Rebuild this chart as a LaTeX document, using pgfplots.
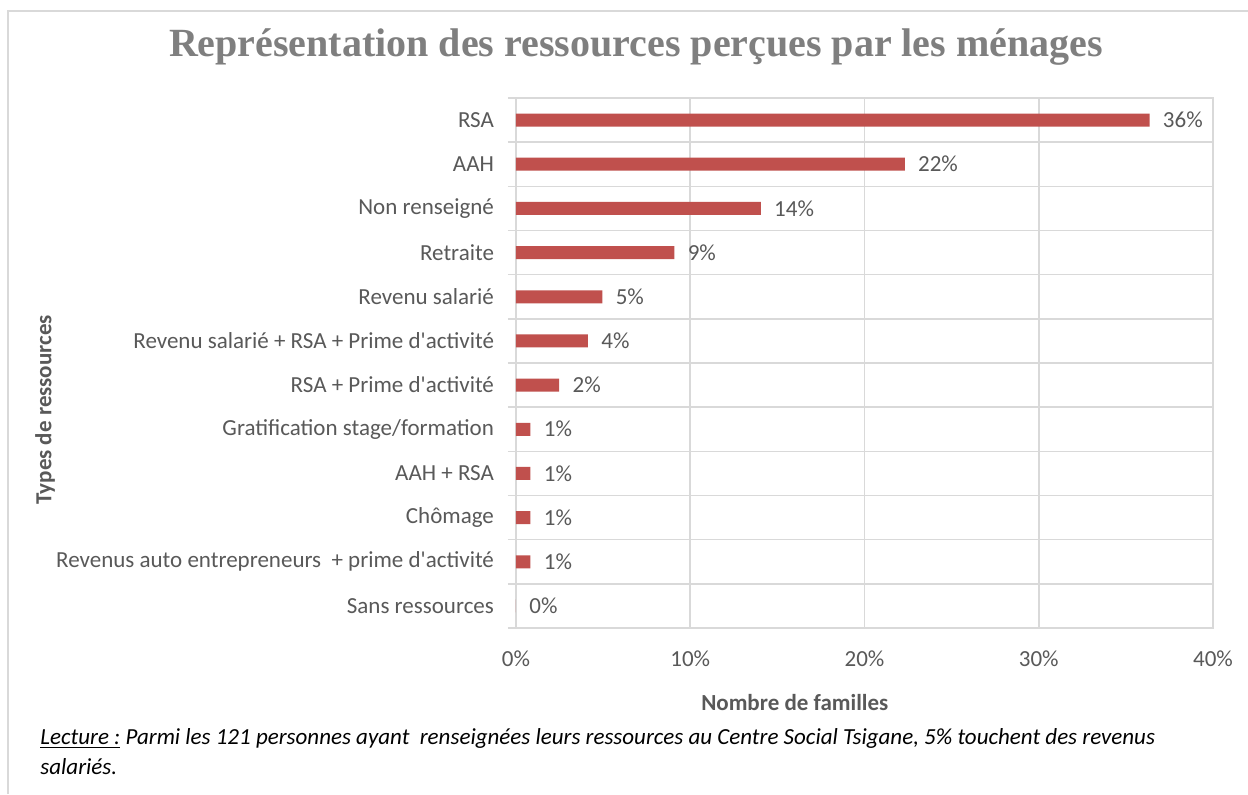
\documentclass[border=0pt]{standalone}
\usepackage{fontspec}
\setmainfont{Carlito}
\newfontfamily\titlefont{Liberation Serif}
\usepackage{pgfplots}
\pgfplotsset{compat=1.18}

\definecolor{barred}{HTML}{C0504D}
\definecolor{txt}{HTML}{595959}
\definecolor{ttl}{HTML}{7F7F7F}
\definecolor{gridc}{HTML}{D9D9D9}

% share of the 121 households, in %
\pgfplotstableread{
y   val
11  36.36
10  22.31
9   14.05
8   9.09
7   4.96
6   4.13
5   2.48
4   0.83
3   0.83
2   0.83
1   0.83
0   0
}\ressources

\newcommand{\q}{\textquotesingle}
\newcommand{\lbl}{\fontsize{11.5}{13}\selectfont}

\begin{document}
\begin{tikzpicture}
\useasboundingbox (0,0) rectangle (624pt,397pt);
\fill[white] (0,0) rectangle (624pt,397pt);
\draw[gridc, line width=0.8pt] (4pt,0) -- (4pt,391.5pt) -- (624pt,391.5pt);

\begin{axis}[
    at={(258pt,83pt)}, anchor=south west,
    scale only axis,
    width=348.5pt, height=265pt,
    xbar, bar width=6.5pt,
    xmin=0, xmax=40,
    ymin=-0.5, ymax=11.5,
    xtick={0,10,20,30,40},
    xticklabel={\pgfmathprintnumber{\tick}\%},
    ytick={0,...,11},
    yticklabels={Sans ressources,
      Revenus auto entrepreneurs\ \ + prime d\q activité,
      Chômage, AAH + RSA, Gratification stage/formation,
      RSA + Prime d\q activité,
      Revenu salarié + RSA + Prime d\q activité,
      Revenu salarié, Retraite, Non renseigné, AAH, RSA},
    minor ytick={-0.5,0.5,...,11.5},
    ytick pos=left,
    major tick length=0pt,
    minor tick length=4pt,
    tick align=outside,
    minor tick style={gridc, line width=0.8pt},
    xmajorgrids, yminorgrids,
    grid style={gridc, line width=0.8pt},
    axis line style={gridc, line width=0.8pt},
    tick label style={font=\lbl, text=txt},
    /pgf/number format/assume math mode=true,
    yticklabel style={anchor=east, xshift=-7.5pt},
    xticklabel style={anchor=north, yshift=-8pt},
    nodes near coords={\pgfmathprintnumber[fixed,precision=0]{\pgfplotspointmeta}\%},
    point meta=x,
    every node near coord/.append style={font=\lbl,
      text=txt, anchor=west, inner sep=0pt, xshift=6.5pt},
    clip=false,
]
\addplot[fill=barred, draw=none] table[x=val, y=y] {\ressources};
\node[font=\bfseries\lbl, text=txt, anchor=base]
  at (rel axis cs:0.4,-0.155) {Nombre de familles};
\end{axis}

\node[font=\titlefont\bfseries\fontsize{20}{24}\selectfont, text=ttl, anchor=base]
  at (318pt,368.5pt) {Représentation des ressources perçues par les ménages};
\node[font=\bfseries\lbl, text=txt, rotate=90]
  at (22.5pt,192pt) {Types de ressources};
\node[font=\itshape\lbl, anchor=base west, inner sep=0pt]
  at (20pt,25pt) {\underline{Lecture :} Parmi les 121 personnes ayant\ \ renseignées leurs ressources au Centre Social Tsigane, 5\% touchent des revenus};
\node[font=\itshape\lbl, anchor=base west, inner sep=0pt]
  at (20pt,10pt) {salariés.};
\end{tikzpicture}
\end{document}
